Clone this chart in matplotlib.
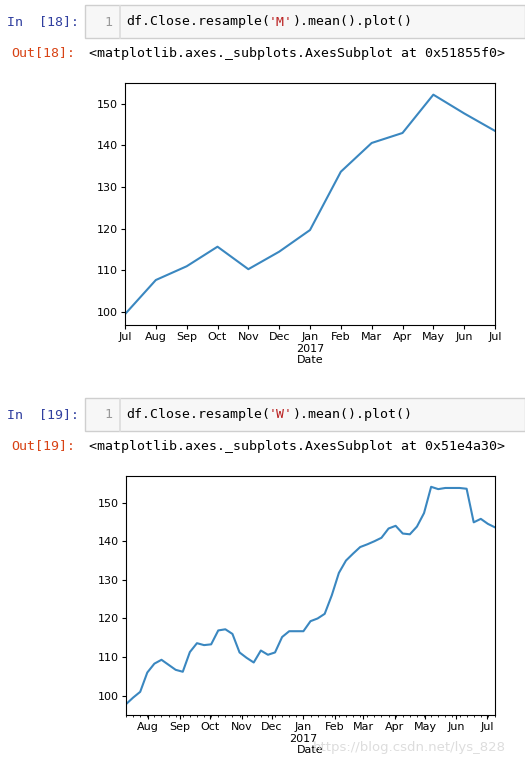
import matplotlib
matplotlib.use("Agg")
import matplotlib.pyplot as plt
import matplotlib.patches as mpatches
import matplotlib.dates as mdates
import pandas as pd

W, H = 525, 765

# monthly mean (resample 'M')
month_labels = ["Jul", "Aug", "Sep", "Oct", "Nov", "Dec", "Jan\n2017", "Feb", "Mar", "Apr", "May", "Jun", "Jul"]
month_close = [99.5, 107.7, 111.0, 115.7, 110.3, 114.5, 119.7, 133.7, 140.6, 143.0, 152.2, 147.7, 143.5]

# weekly mean (resample 'W')
week_start = "2016-07-10"
week_close = [97.8, 99.5, 101.0, 106.0, 108.3, 109.3, 108.0, 106.7, 106.2, 111.3,
              113.6, 113.1, 113.3, 116.9, 117.2, 116.0, 111.2, 109.8, 108.6, 111.7,
              110.6, 111.2, 115.2, 116.7, 116.7, 116.7, 119.3, 120.0, 121.2, 126.0,
              131.8, 135.0, 136.8, 138.5, 139.2, 140.0, 140.9, 143.3, 144.0, 142.0,
              141.8, 143.8, 147.3, 154.1, 153.5, 153.8, 153.8, 153.8, 153.6, 144.9,
              145.8, 144.5, 143.6]
week_dates = pd.date_range(week_start, periods=len(week_close), freq="W-SUN")

mono = "DejaVu Sans Mono"
fs = 9.5
cw = 7.94  # px per mono char


def fx(x):
    return x / W


def fy(y):
    return 1 - y / H


fig = plt.figure(figsize=(W / 100, H / 100), dpi=100)


def cell(y0, n, code_a, code_m, code_b, out):
    # input box
    fig.patches.append(mpatches.Rectangle((fx(85), fy(y0 + 33)), fx(440), 33 / H,
                                          transform=fig.transFigure, facecolor="#f7f7f7",
                                          edgecolor="#cfcfcf", lw=1))
    fig.patches.append(mpatches.Rectangle((fx(119), fy(y0 + 33)), 0.5 / W, 33 / H,
                                          transform=fig.transFigure, facecolor="#dddddd",
                                          edgecolor="#dddddd", lw=0.5))
    ym = y0 + 17
    fig.text(fx(7), fy(ym), "In  [%d]:" % n, color="#303f9f", family=mono, fontsize=fs, va="center")
    fig.text(fx(104), fy(ym), "1", color="#999999", family=mono, fontsize=fs, va="center")
    x = 126
    fig.text(fx(x), fy(ym), code_a, color="black", family=mono, fontsize=fs, va="center")
    x += len(code_a) * cw
    fig.text(fx(x), fy(ym), code_m, color="#ba2121", family=mono, fontsize=fs, va="center")
    x += len(code_m) * cw
    fig.text(fx(x), fy(ym), code_b, color="black", family=mono, fontsize=fs, va="center")
    yo = y0 + 48
    fig.text(fx(11), fy(yo), "Out[%d]:" % n, color="#d84315", family=mono, fontsize=fs, va="center")
    fig.text(fx(89), fy(yo), out, color="black", family=mono, fontsize=fs, va="center")


cell(5, 18, "df.Close.resample(", "'M'", ").mean().plot()",
     "<matplotlib.axes._subplots.AxesSubplot at 0x51855f0>")
cell(398, 19, "df.Close.resample(", "'W'", ").mean().plot()",
     "<matplotlib.axes._subplots.AxesSubplot at 0x51e4a30>")

# top chart
ax1 = fig.add_axes([fx(125), fy(325), (495 - 125) / W, (325 - 83) / H])
ax1.plot(range(len(month_close)), month_close, color="#3a87c0", lw=1.5)
ax1.set_xlim(0, len(month_close) - 1)
ax1.set_ylim(96.9, 155)
ax1.set_xticks(range(len(month_labels)))
ax1.set_xticklabels(month_labels)
ax1.set_yticks([100, 110, 120, 130, 140, 150])
ax1.set_xlabel("Date", fontsize=8, labelpad=1)
ax1.tick_params(labelsize=8, length=3, pad=2)

# bottom chart
ax2 = fig.add_axes([fx(126), fy(715), (495 - 126) / W, (715 - 476) / H])
ax2.plot(week_dates, week_close, color="#3a87c0", lw=1.5)
ax2.set_xlim(week_dates[0], week_dates[-1])
ax2.set_ylim(95, 156.9)
ax2.set_yticks([100, 110, 120, 130, 140, 150])
ax2.xaxis.set_major_locator(mdates.MonthLocator())
ax2.xaxis.set_minor_locator(mdates.WeekdayLocator(byweekday=mdates.SU))
ticks = pd.date_range("2016-08-01", "2017-07-01", freq="MS")
ax2.set_xticks(ticks)
ax2.set_xticklabels([d.strftime("%b") + ("\n2017" if d.month == 1 else "") for d in ticks])
ax2.set_xlabel("Date", fontsize=8, labelpad=1)
ax2.tick_params(labelsize=8, length=3, pad=2)
ax2.tick_params(which="minor", length=1.5)

fig.text(fx(313), fy(747), "https://blog.csdn.net/lys_828", color="#dddddd", fontsize=9.5, va="center")

fig.savefig("out.png", dpi=100)
